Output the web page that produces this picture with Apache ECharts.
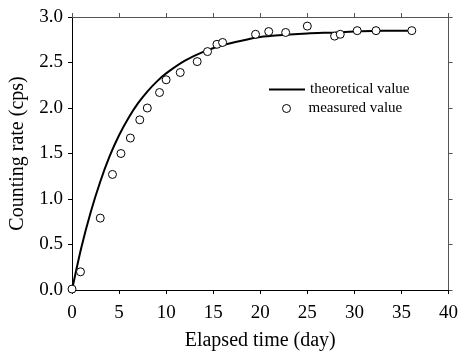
<!DOCTYPE html>
<html>
<head>
<meta charset="utf-8">
<script src="https://cdn.jsdelivr.net/npm/echarts@6/dist/echarts.min.js"></script>
<style>
  html, body { margin: 0; padding: 0; background: #fff; }
  #main { width: 461px; height: 356px; }
</style>
</head>
<body>
<div id="main"></div>
<script>
// measured points (day, cps)
var measDays = [0, 0.9, 3.0, 4.3, 5.2, 6.2, 7.2, 8.0, 9.3, 10.0, 11.5, 13.3, 14.4, 15.4, 16.0,
    19.5, 20.9, 22.7, 25.0, 27.9, 28.5, 30.3, 32.3, 36.1];
var measRate = [0.01, 0.20, 0.79, 1.27, 1.50, 1.67, 1.87, 2.00, 2.17, 2.31, 2.39, 2.51, 2.62, 2.70, 2.72,
    2.81, 2.84, 2.83, 2.90, 2.79, 2.81, 2.85, 2.85, 2.85];

// theoretical curve
var theoDays = [0, 1, 2, 3, 4, 5, 6, 7, 8, 9, 10, 12, 14, 16, 18, 20, 22, 25, 28, 30, 33, 36];
var theoRate = [0, 0.47, 0.86, 1.19, 1.47, 1.70, 1.89, 2.05, 2.18, 2.29, 2.38, 2.52, 2.62, 2.69, 2.74,
    2.78, 2.80, 2.82, 2.83, 2.84, 2.85, 2.85];

var xTicks = [0, 5, 10, 15, 20, 25, 30, 35, 40];
var yTicks = [0.0, 0.5, 1.0, 1.5, 2.0, 2.5, 3.0];

var myChart = echarts.init(document.getElementById('main'));

var measData = [];
for (var i = 0; i < measDays.length; i++) {
    measData.push([measDays[i], measRate[i]]);
}
var theoData = [];
for (i = 0; i < theoDays.length; i++) {
    theoData.push([theoDays[i], theoRate[i]]);
}

var font = 'Liberation Serif';
var tickStyle = {show: true, inside: false, length: 4, lineStyle: {color: '#000', width: 1}};

option = {
    animation: false,
    textStyle: {fontFamily: font, color: '#000'},
    grid: {
        left: 71.5,
        right: 8.5,
        top: 17,
        bottom: 65
    },
    legend: [
        {
            data: [{name: 'theoretical value', icon: 'rect'}],
            left: 264,
            top: 77,
            itemWidth: 36,
            itemHeight: 2,
            itemStyle: {color: '#000'},
            textStyle: {fontFamily: font, fontSize: 15, color: '#000'}
        },
        {
            data: ['measured value'],
            left: 277,
            top: 96,
            itemWidth: 8,
            itemHeight: 8,
            itemStyle: {color: '#fff', borderColor: '#000', borderWidth: 1},
            textStyle: {fontFamily: font, fontSize: 15, color: '#000', padding: [0, 0, 0, 13]}
        }
    ],
    xAxis: [
        {
            type: 'value',
            min: xTicks[0],
            max: xTicks[xTicks.length - 1],
            interval: 5,
            name: 'Elapsed time (day)',
            nameLocation: 'middle',
            nameGap: 41,
            nameTextStyle: {fontFamily: font, fontSize: 20, color: '#000'},
            axisLine: {show: true, onZero: false, lineStyle: {color: '#000', width: 1}},
            axisTick: tickStyle,
            axisLabel: {fontFamily: font, fontSize: 19, color: '#000', margin: 14},
            splitLine: {show: false}
        },
        {
            type: 'value',
            position: 'top',
            min: xTicks[0],
            max: xTicks[xTicks.length - 1],
            interval: 5,
            axisLine: {show: true, onZero: false, lineStyle: {color: '#555', width: 1}},
            axisTick: {show: true, inside: false, length: 4, lineStyle: {color: '#555'}},
            axisLabel: {show: false},
            splitLine: {show: false}
        }
    ],
    yAxis: [
        {
            type: 'value',
            min: yTicks[0],
            max: yTicks[yTicks.length - 1],
            interval: 0.5,
            name: 'Counting rate (cps)',
            nameLocation: 'middle',
            nameGap: 44,
            nameTextStyle: {fontFamily: font, fontSize: 20, color: '#000'},
            axisLine: {show: true, onZero: false, lineStyle: {color: '#000', width: 1}},
            axisTick: tickStyle,
            axisLabel: {
                fontFamily: font, fontSize: 19, color: '#000', margin: 9,
                formatter: function (v) { return v.toFixed(1); }
            },
            splitLine: {show: false}
        },
        {
            type: 'value',
            position: 'right',
            min: yTicks[0],
            max: yTicks[yTicks.length - 1],
            interval: 0.5,
            axisLine: {show: true, onZero: false, lineStyle: {color: '#555', width: 1}},
            axisTick: {show: true, inside: false, length: 4, lineStyle: {color: '#555'}},
            axisLabel: {show: false},
            splitLine: {show: false}
        }
    ],
    series: [
        {
            name: 'theoretical value',
            type: 'line',
            data: theoData,
            smooth: 0.3,
            symbol: 'none',
            color: '#000',
            lineStyle: {color: '#000', width: 2}
        },
        {
            name: 'measured value',
            type: 'scatter',
            data: measData,
            symbol: 'circle',
            symbolSize: 8,
            itemStyle: {color: '#fff', borderColor: '#000', borderWidth: 1, opacity: 1},
            z: 5
        }
    ]
};
myChart.setOption(option);
</script>
</body>
</html>
